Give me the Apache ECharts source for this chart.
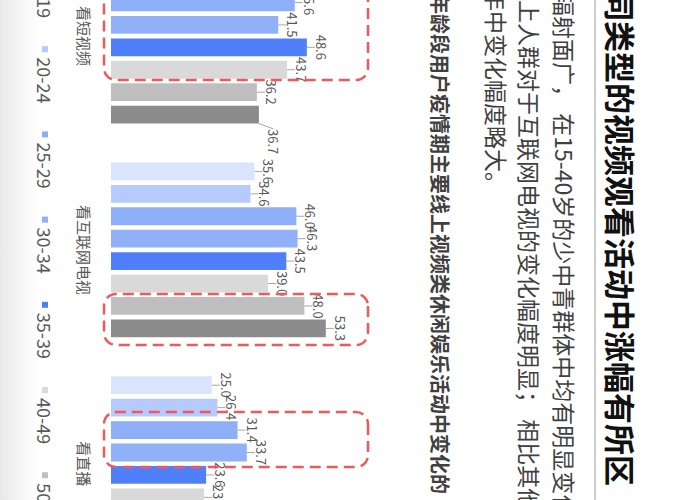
<!DOCTYPE html>
<html>
<head>
<meta charset="utf-8">
<script src="https://cdn.jsdelivr.net/npm/echarts@6/dist/echarts.min.js"></script>
<style>
  html, body { margin: 0; padding: 0; width: 700px; height: 500px; overflow: hidden; background: #fff; }
  /* the slide is photographed turned a quarter turn clockwise */
  #chart-container {
    position: absolute; left: 0; top: 0;
    width: 700px; height: 700px;
    transform-origin: 0 0;
    transform: translate(700px, -100px) rotate(90deg);
  }
</style>
</head>
<body>
<div id="chart-container"></div>
<script>
var categories = ['看短视频', '看互联网电视', '看直播'];
var ageGroups = ['15-19', '20-24', '25-29', '30-34', '35-39', '40-49', '50-59', '60+'];
var colors = ['#dae4fc', '#b6cbfb', '#8eaef7', '#90b0f8', '#4f80fa', '#d9d9d9', '#bfbfbf', '#8c8c8c'];

// one array per activity, one value per age group ('-' = not visible in the crop)
var shortVideo = ['-', '-', 45.6, 41.5, 48.6, 43.7, 36.2, 36.7];
var internetTv = [35.6, 34.6, 46.0, 46.3, 43.5, 39.0, 48.0, 53.3];
var liveStream = [25.0, 26.4, 31.4, 33.7, 23.6, 23.1, '-', '-'];

var pageTitle = '同类型的视频观看活动中涨幅有所区';
var bodyLines = [
    '辐射面广， 在15-40岁的少中青群体中均有明显变化',
    '上人群对于互联网电视的变化幅度明显； 相比其他',
    '年中变化幅度略大。'
];
var chartTitle = '年龄段用户疫情期主要线上视频类休闲娱乐活动中变化的';

var FONT = '"Noto Sans CJK SC", "Noto Sans", sans-serif';

var chartDom = document.getElementById('chart-container');
var myChart = echarts.init(chartDom, null, {renderer: 'svg'});

var series = [];
for (let i = 0; i < ageGroups.length; i++) {
    series.push({
        name: ageGroups[i],
        type: 'bar',
        barWidth: 17.8,
        barGap: '26%',
        itemStyle: {color: colors[i]},
        data: [shortVideo[i], internetTv[i], liveStream[i]],
        label: {
            show: true,
            position: 'top',
            distance: 8,
            fontFamily: FONT,
            fontSize: 13,
            color: '#595959',
            formatter: function (p) {
                return typeof p.value === 'number' ? p.value.toFixed(1) : '';
            }
        },
        labelLine: {
            show: true,
            lineStyle: {color: '#a6a6a6', width: 1}
        }
    });
}

function dashedBox(x, y, w, h) {
    return {
        type: 'rect',
        shape: {x: x, y: y, width: w, height: h, r: 12},
        style: {fill: 'none', stroke: '#ef585d', lineWidth: 2.5, lineDash: [11, 6]},
        z: 10
    };
}

var graphics = [
    {
        type: 'rect',
        shape: {x: 0, y: 660, width: 700, height: 40},
        style: {
            fill: new echarts.graphic.LinearGradient(0, 0, 0, 1, [
                {offset: 0, color: 'rgba(236,236,236,0)'},
                {offset: 1, color: 'rgba(232,232,232,1)'}
            ])
        },
        z: -1
    },
    {
        type: 'text', x: 90, y: 79,
        style: {text: pageTitle, fontFamily: FONT, fontSize: 31, fontWeight: 'bold', fill: '#111111', verticalAlign: 'middle'}
    },
    {
        type: 'line',
        shape: {x1: 0, y1: 105, x2: 700, y2: 105},
        style: {stroke: '#cdcdcd', lineWidth: 2}
    },
    {
        type: 'text', x: 93, y: 135,
        style: {text: bodyLines[0], fontFamily: FONT, fontSize: 23, fill: '#404040', verticalAlign: 'middle'}
    },
    {
        type: 'text', x: 100, y: 170,
        style: {text: bodyLines[1], fontFamily: FONT, fontSize: 23, fill: '#404040', verticalAlign: 'middle'}
    },
    {
        type: 'text', x: 88, y: 203,
        style: {text: bodyLines[2], fontFamily: FONT, fontSize: 23, fill: '#404040', verticalAlign: 'middle'}
    },
    {
        type: 'text', x: 94, y: 260,
        style: {text: chartTitle, fontFamily: FONT, fontSize: 20, fontWeight: 'bold', fill: '#404040', verticalAlign: 'middle'}
    },
    dashedBox(45, 332, 135, 264),
    dashedBox(394, 332, 51, 264),
    dashedBox(512, 332, 55, 264)
];

var option = {
    animation: false,
    legend: {
        data: ageGroups,
        left: 56,
        top: 641,
        icon: 'rect',
        itemWidth: 6,
        itemHeight: 6,
        itemGap: 28,
        textStyle: {fontFamily: FONT, fontSize: 18, color: '#595959'}
    },
    grid: {left: 29.2, right: 29.4, top: 347.2, bottom: 111},
    xAxis: {
        type: 'category',
        data: categories,
        axisLine: {show: false},
        axisTick: {show: false},
        axisLabel: {fontFamily: FONT, fontSize: 15, color: '#595959', margin: 19}
    },
    yAxis: {
        type: 'value',
        min: 0,
        max: 60,
        show: false,
        splitLine: {show: false}
    },
    labelLayout: function (params) {
        // the 60+ label of the first group is pushed aside in the original
        if (params.seriesIndex === 7 && params.dataIndex === 0) {
            return {dx: 27};
        }
    },
    graphic: graphics,
    series: series
};

myChart.setOption(option);
</script>
</body>
</html>
